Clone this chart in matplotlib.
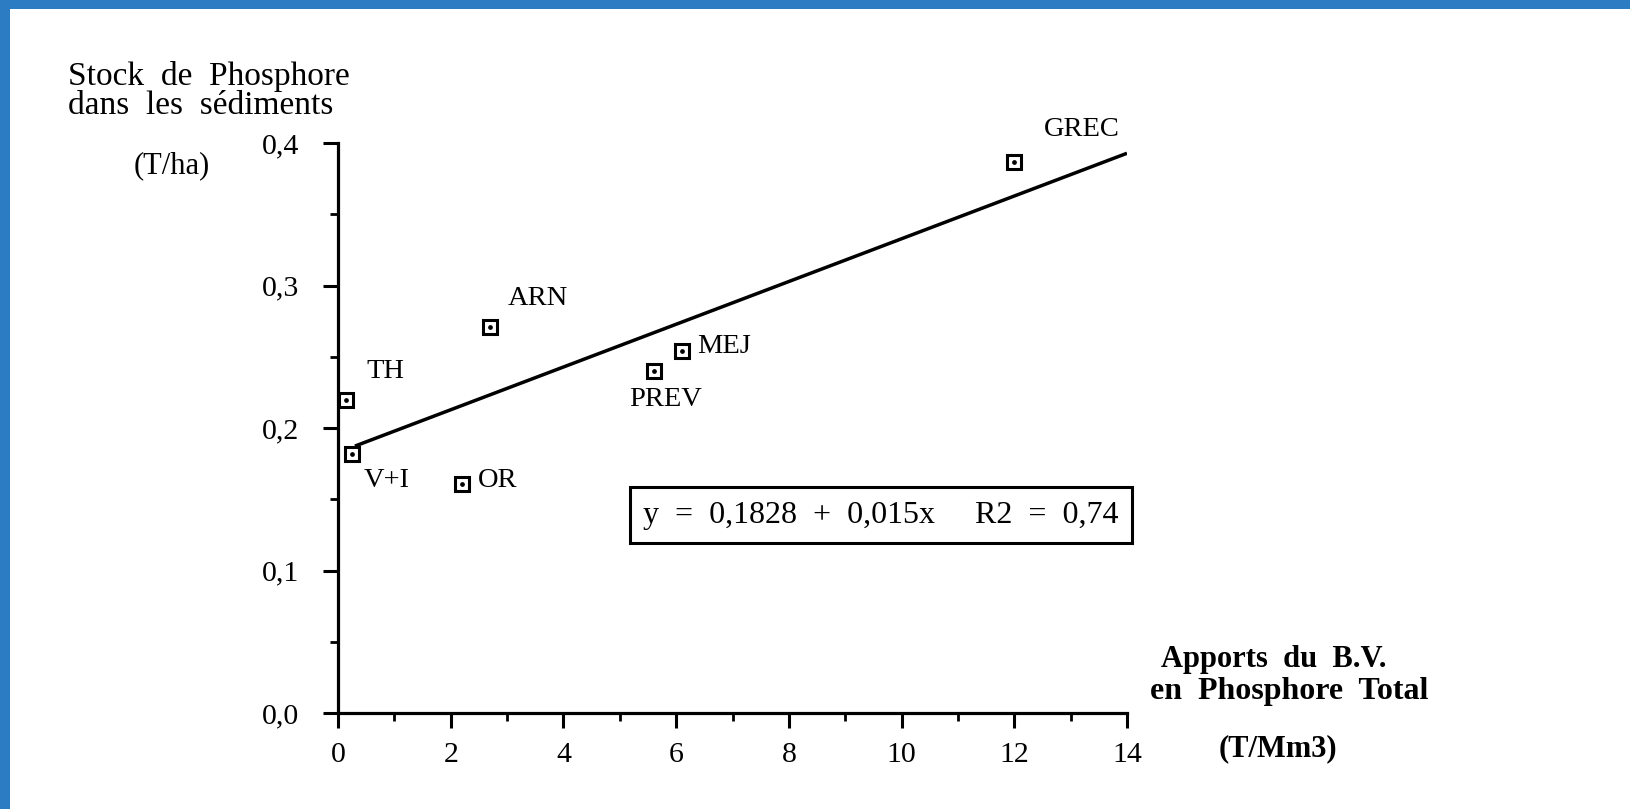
import matplotlib
matplotlib.use("Agg")
import matplotlib.pyplot as plt
from matplotlib.patches import Rectangle
from matplotlib.ticker import MultipleLocator

# stations : apports du B.V. (T/Mm3) et stock de P dans les sediments (T/ha)
stations = ["TH", "V+I", "OR", "ARN", "PREV", "MEJ", "GREC"]
apports = [0.15, 0.25, 2.2, 2.7, 5.6, 6.1, 12.0]
stock = [0.220, 0.182, 0.161, 0.271, 0.240, 0.254, 0.387]

# droite de regression
intercept = 0.1828
pente = 0.015
r2 = 0.74
fit_range = [0.3, 14.0]

x_ticks = [0, 2, 4, 6, 8, 10, 12, 14]
y_ticks = [0.0, 0.1, 0.2, 0.3, 0.4]

plt.rcParams['font.family'] = ['Liberation Serif', 'DejaVu Serif']

fig = plt.figure(figsize=(16.3, 8.09), dpi=100)
fig.patch.set_facecolor('white')
blue = '#2b7cc2'
fig.patches.append(Rectangle((0, 0), 10 / 1630, 1, transform=fig.transFigure,
                             facecolor=blue, edgecolor='none'))
fig.patches.append(Rectangle((0, 1 - 9 / 809), 1, 9 / 809, transform=fig.transFigure,
                             facecolor=blue, edgecolor='none'))

ax = fig.add_axes([338 / 1630, 96 / 809, 789 / 1630, 570 / 809])
ax.set_zorder(2)
ax.set_facecolor('none')
ax.set_xlim(0, 14)
ax.set_ylim(0, 0.4)
for s in ['top', 'right']:
    ax.spines[s].set_visible(False)
for s in ['left', 'bottom']:
    ax.spines[s].set_linewidth(2.3)

ax.set_xticks(x_ticks)
ax.set_xticklabels([str(v) for v in x_ticks])
ax.set_yticks(y_ticks)
ax.set_yticklabels([("%.1f" % v).replace('.', ',') for v in y_ticks])
ax.xaxis.set_minor_locator(MultipleLocator(1))
ax.yaxis.set_minor_locator(MultipleLocator(0.05))
ax.tick_params(which='major', direction='out', length=11, width=2.2, labelsize=21.5)
ax.tick_params(axis='y', which='major', pad=17)
ax.tick_params(axis='x', which='major', pad=10)
ax.tick_params(which='minor', direction='out', length=6, width=2)

# droite
fx = fit_range
fy = [intercept + pente * v for v in fx]
ax.plot(fx, fy, color='black', lw=2.5, zorder=3, solid_capstyle='butt')

# points
ax.plot(apports, stock, ls='none', marker='s', ms=10.5, mfc='white', mec='black', mew=2.2, zorder=4)
ax.plot(apports, stock, ls='none', marker='o', ms=2.4, color='black', zorder=5)

offsets = {"TH": (20, 28, 'left'), "V+I": (12, -27, 'left'), "OR": (16, 3, 'left'),
           "ARN": (18, 28, 'left'), "PREV": (-24, -28, 'left'), "MEJ": (15, 5, 'left'),
           "GREC": (30, 32, 'left')}
for name, xv, yv in zip(stations, apports, stock):
    dx, dy, ha = offsets[name]
    ax.annotate(name, (xv, yv), xytext=(dx, dy), textcoords='offset pixels',
                ha=ha, va='center', fontsize=20.5)

eq = "y  =  0,1828  +  0,015x     R2  =  %s" % ("%.2f" % r2).replace('.', ',')
ax.text(0.688, 0.347, eq, transform=ax.transAxes, ha='center', va='center', fontsize=23,
        bbox=dict(boxstyle='square,pad=0.42', fc='white', ec='black', lw=2.2))

# titres des axes
fig.text(68 / 1630, 1 - 77 / 809, "Stock  de  Phosphore", fontsize=24, va='center', ha='left')
fig.text(68 / 1630, 1 - 106 / 809, "dans  les  sédiments", fontsize=24, va='center', ha='left')
fig.text(172 / 1630, 1 - 166 / 809, "(T/ha)", fontsize=22, va='center', ha='center')

fig.text(1274 / 1630, 1 - 659 / 809, "Apports  du  B.V.", fontsize=22, fontweight='bold',
         va='center', ha='center')
fig.text(1289 / 1630, 1 - 692 / 809, "en  Phosphore  Total", fontsize=23, fontweight='bold',
         va='center', ha='center')
fig.text(1278 / 1630, 1 - 749 / 809, "(T/Mm3)", fontsize=22, fontweight='bold',
         va='center', ha='center')

fig.savefig("out.png", dpi=100)
